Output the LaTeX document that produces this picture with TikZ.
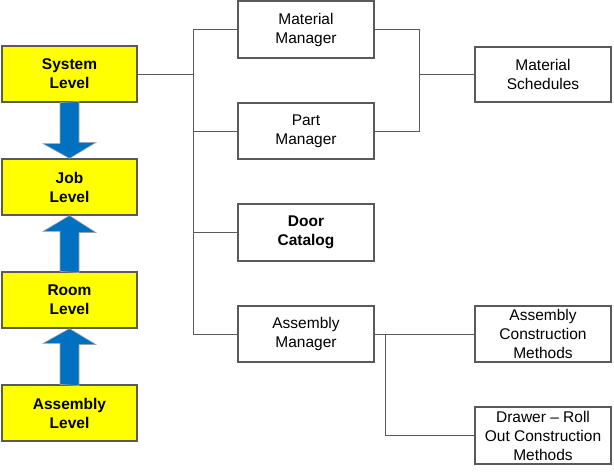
\documentclass[tikz,border=0pt]{standalone}
\usepackage{fontspec}
\setmainfont{Liberation Sans}
\usetikzlibrary{calc}
\definecolor{lvlyellow}{HTML}{FFFF00}
\definecolor{lvlblue}{HTML}{0070C0}
\definecolor{linegray}{HTML}{5A5A5A}
\tikzset{
  lvlbox/.style={draw=linegray, line width=1.2pt, fill=lvlyellow, minimum width=135pt, minimum height=56pt, inner sep=0pt, align=center, font=\fontsize{15.5}{19}\selectfont\bfseries},
  mgrbox/.style={draw=linegray, line width=1.2pt, fill=white, minimum width=136pt, minimum height=56pt, inner sep=0pt, align=center, font=\fontsize{15.5}{19}\selectfont},
  conn/.style={draw=linegray, line width=1pt},
  bigarrow/.style={fill=lvlblue, draw=gray!70, line width=0.6pt, line join=miter}
}
\begin{document}
\begin{tikzpicture}[x=1pt,y=-1pt]
\useasboundingbox (0,0) rectangle (614,472);
% level boxes
\node[lvlbox] (sys) at (69.5,74) {System\\Level};
\node[lvlbox] (job) at (69.5,187) {Job\\Level};
\node[lvlbox] (room) at (69.5,300) {Room\\Level};
\node[lvlbox] (asm) at (69.5,413) {Assembly\\Level};
% manager boxes
\node[mgrbox, minimum height=57pt] (mm) at (306,29.5) {Material\\Manager};
\node[mgrbox] (pm) at (306,131) {Part\\Manager};
\node[mgrbox, minimum height=57pt, font=\fontsize{15.5}{19}\selectfont\bfseries] (dc) at (306,232.5) {Door\\Catalog};
\node[mgrbox] (am) at (306,334) {Assembly\\Manager};
% right boxes
\node[mgrbox, minimum height=55pt] (ms) at (543,74.5) {Material\\Schedules};
\node[mgrbox] (acm) at (543,334) {Assembly\\Construction\\Methods};
\node[mgrbox, minimum height=57pt] (dr) at (543,435.5) {Drawer -- Roll\\Out Construction\\Methods};
% block arrows
\draw[bigarrow] ($(sys.south)+(-9.5,0)$) -- ++(0,41) -- ++(-17,0) -- (job.north) -- ++(26.5,-16) -- ++(-17,0) -- ++(0,-41) -- cycle;
\draw[bigarrow] ($(room.north)+(-9.5,0)$) -- ++(0,-40) -- ++(-17,0) -- (job.south) -- ++(26.5,17) -- ++(-17,0) -- ++(0,40) -- cycle;
\draw[bigarrow] ($(asm.north)+(-9.5,0)$) -- ++(0,-41) -- ++(-17,0) -- (room.south) -- ++(26.5,16) -- ++(-17,0) -- ++(0,41) -- cycle;
% connectors
\coordinate (busx) at (193,0);
\coordinate (rx) at (419,0);
\coordinate (dx) at (385,0);
\draw[conn] (mm.west) -- (mm.west -| busx) -- (am.west -| busx) -- (am.west);
\draw[conn] (sys.east) -- (sys.east -| busx);
\draw[conn] (pm.west) -- (pm.west -| busx);
\draw[conn] (dc.west) -- (dc.west -| busx);
\draw[conn] (mm.east) -- (mm.east -| rx) -- (pm.east -| rx) -- (pm.east);
\draw[conn] (ms.west) -- (ms.west -| rx);
\draw[conn] (am.east) -- (acm.west);
\draw[conn] (am.east -| dx) |- (dr.west);
\end{tikzpicture}
\end{document}
